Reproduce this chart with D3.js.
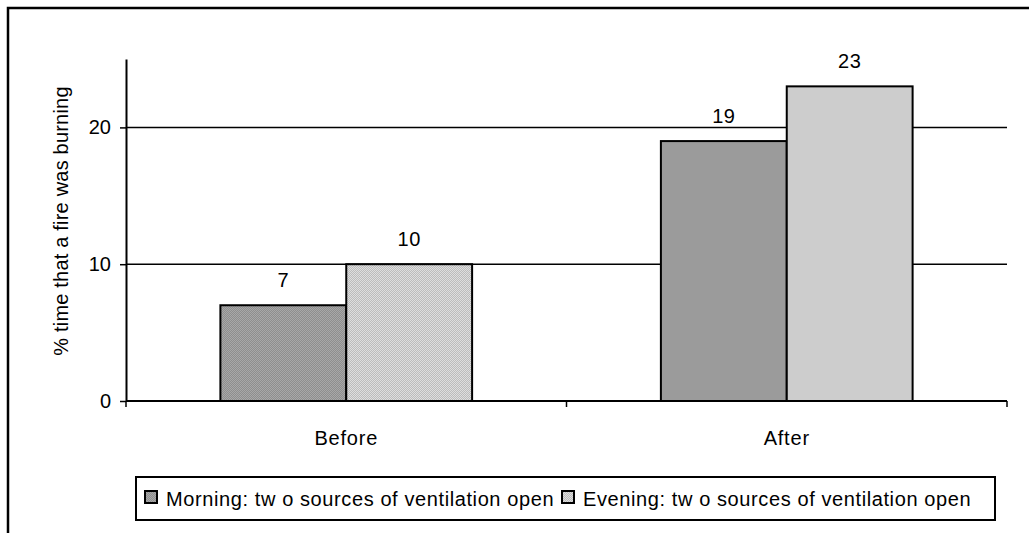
<!DOCTYPE html>
<html lang="en">
<head>
  <title>fire burning bar chart</title>
  <script type="text/javascript" src="https://cdn.jsdelivr.net/npm/d3@7/dist/d3.min.js"></script>
  <style>
    body { margin: 0; background: #fff; }
    svg { display: block; font-family: Arial, "Liberation Sans", sans-serif; }
  </style>
</head>
<body>
  <script type="text/javascript">
    var categories = ["Before", "After"];
    var seriesNames = ["Morning: tw o sources of ventilation open", "Evening: tw o sources of ventilation open"];
    var morning = [7, 19];
    var evening = [10, 23];
    var yTicks = [0, 10, 20];
    var yTitle = "% time that a fire was burning";

    var width = 1029, height = 533;
    var plotLeft = 126, plotRight = 1007, plotTop = 59, plotBottom = 401;
    var fontSize = 20;

    var svg = d3.select("body").append("svg")
      .attr("width", width)
      .attr("height", height);

    // fine dither patterns like the original
    var defs = svg.append("defs");
    function pattern(id, a, b) {
      var p = defs.append("pattern").attr("id", id)
        .attr("width", 2).attr("height", 2)
        .attr("patternUnits", "userSpaceOnUse");
      p.append("rect").attr("width", 2).attr("height", 2).attr("fill", a);
      p.append("rect").attr("width", 1).attr("height", 1).attr("fill", b);
      p.append("rect").attr("x", 1).attr("y", 1).attr("width", 1).attr("height", 1).attr("fill", b);
    }
    pattern("pm", "#8e8e8e", "#a8a8a8");
    pattern("pe", "#bcbcbc", "#dedede");
    var fills = ["url(#pm)", "url(#pe)"];

    // outer frame (cropped at right and bottom)
    svg.append("rect")
      .attr("x", 8).attr("y", 8)
      .attr("width", 1040).attr("height", 540)
      .attr("fill", "none").attr("stroke", "#000").attr("stroke-width", 2.5);

    var y = d3.scaleLinear().domain([0, 25]).range([plotBottom, plotTop]);
    var x0 = d3.scaleBand().domain(categories).range([plotLeft, plotRight]);
    var x1 = d3.scaleBand().domain([0, 1]).range([0, x0.bandwidth()]).paddingOuter(0.75);

    // gridlines
    svg.append("g").selectAll("line")
      .data(yTicks.filter(function (d) { return d > 0; }))
      .enter().append("line")
      .attr("x1", plotLeft).attr("x2", plotRight)
      .attr("y1", function (d) { return y(d); })
      .attr("y2", function (d) { return y(d); })
      .attr("stroke", "#000").attr("stroke-width", 1.5);

    var data = categories.map(function (c, i) { return [morning[i], evening[i]]; });

    var groups = svg.append("g").selectAll("g")
      .data(data)
      .enter().append("g")
      .attr("transform", function (d, i) { return "translate(" + x0(categories[i]) + ",0)"; });

    groups.selectAll("rect")
      .data(function (d) { return d; })
      .enter().append("rect")
      .attr("x", function (d, j) { return x1(j); })
      .attr("y", function (d) { return y(d); })
      .attr("width", x1.bandwidth())
      .attr("height", function (d) { return y(0) - y(d); })
      .attr("fill", function (d, j) { return fills[j]; })
      .attr("stroke", "#000").attr("stroke-width", 2);

    groups.selectAll("text")
      .data(function (d) { return d; })
      .enter().append("text")
      .attr("x", function (d, j) { return x1(j) + x1.bandwidth() / 2; })
      .attr("y", function (d) { return y(d) - 18; })
      .attr("text-anchor", "middle")
      .attr("font-size", fontSize)
      .attr("letter-spacing", 0.5)
      .text(function (d) { return d; });

    // y axis
    var yAxis = svg.append("g")
      .attr("transform", "translate(" + plotLeft + ",0)")
      .call(d3.axisLeft(y).tickValues(yTicks).tickSize(6).tickPadding(9).tickSizeOuter(0));
    yAxis.select(".domain").attr("stroke", "#000").attr("stroke-width", 2);
    yAxis.selectAll(".tick line").attr("stroke", "#000").attr("stroke-width", 1.5);
    yAxis.selectAll(".tick text").attr("font-size", fontSize).attr("font-family", "Arial, 'Liberation Sans', sans-serif").attr("fill", "#000");

    // x axis with ticks between categories
    var xAxis = svg.append("g").attr("transform", "translate(0," + plotBottom + ")");
    xAxis.append("line")
      .attr("x1", plotLeft).attr("x2", plotRight)
      .attr("stroke", "#000").attr("stroke-width", 2);
    var bounds = [plotLeft].concat(categories.map(function (c) { return x0(c) + x0.bandwidth(); }));
    xAxis.selectAll(".xt").data(bounds).enter().append("line")
      .attr("x1", function (d) { return d; }).attr("x2", function (d) { return d; })
      .attr("y1", 0).attr("y2", 6)
      .attr("stroke", "#000").attr("stroke-width", 1.5);
    xAxis.selectAll("text").data(categories).enter().append("text")
      .attr("x", function (d) { return x0(d) + x0.bandwidth() / 2; })
      .attr("y", 44)
      .attr("text-anchor", "middle")
      .attr("font-size", fontSize)
      .attr("letter-spacing", 0.8)
      .text(function (d) { return d; });

    // y title
    svg.append("text")
      .attr("transform", "translate(68,221) rotate(-90)")
      .attr("text-anchor", "middle")
      .attr("font-size", fontSize)
      .attr("letter-spacing", 0.2)
      .text(yTitle);

    // legend
    var legend = svg.append("g");
    legend.append("rect")
      .attr("x", 136).attr("y", 477).attr("width", 859).attr("height", 43)
      .attr("fill", "#fff").attr("stroke", "#000").attr("stroke-width", 2);
    var lx = [145, 562];
    seriesNames.forEach(function (name, i) {
      legend.append("rect")
        .attr("x", lx[i]).attr("y", 491).attr("width", 12).attr("height", 12)
        .attr("fill", fills[i]).attr("stroke", "#000").attr("stroke-width", 2);
      legend.append("text")
        .attr("x", lx[i] + 21).attr("y", 506)
        .attr("font-size", fontSize)
        .attr("letter-spacing", 0.6)
        .text(name);
    });
  </script>
</body>
</html>
